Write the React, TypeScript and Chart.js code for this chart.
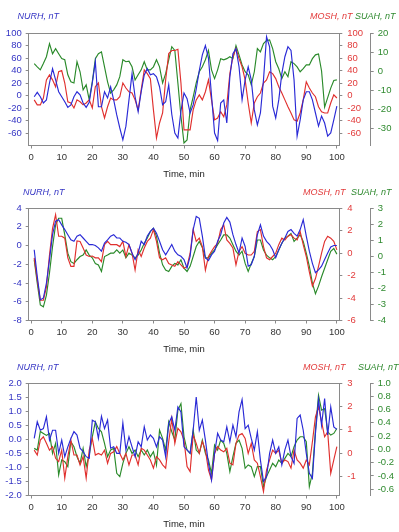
import React, { useEffect, useRef } from 'react';
import { Chart, registerables } from 'chart.js';

Chart.register(...registerables);

const FONT = "'Liberation Sans', Arial, Helvetica, sans-serif";
Chart.defaults.font.family = FONT;
Chart.defaults.font.size = 9.5;

const minutes = [
  1, 2, 3, 4, 5, 6, 7, 8, 9, 10, 11, 12, 13, 14, 15, 16, 17, 18, 19, 20,
  21, 22, 23, 24, 25, 26, 27, 28, 29, 30, 31, 32, 33, 34, 35, 36, 37, 38, 39, 40,
  41, 42, 43, 44, 45, 46, 47, 48, 49, 50, 51, 52, 53, 54, 55, 56, 57, 58, 59, 60,
  61, 62, 63, 64, 65, 66, 67, 68, 69, 70, 71, 72, 73, 74, 75, 76, 77, 78, 79, 80,
  81, 82, 83, 84, 85, 86, 87, 88, 89, 90, 91, 92, 93, 94, 95, 96, 97, 98, 99, 100,
];
const timeTicks = [0, 10, 20, 30, 40, 50, 60, 70, 80, 90, 100];

// ---------- Panel 1 ----------
const nurh1 = [
  -2, 5, -2, -12, -7, 20, 43, 25, 6, -2,
  -10, -19, -15, -2, 6, 1, -12, -19, -11, 20,
  54, -18, -18, 6, -4, 14, -7, -31, -52, -71,
  -49, -7, 35, -2, -26, 6, 33, 43, 33, 35,
  30, 14, -15, -10, 17, -30, -60, -68, -25, 4,
  -5, -28, -15, 10, 40, 65, 80, 60, 0, -60,
  -72, -12, -7, -44, 30, 67, 75, 46, -7, 25,
  46, 25, -23, -47, -28, 25, 94, 78, -17, -36,
  -7, 35, 62, 78, 72, 25, -65, -39, -7, 6,
  6, -7, -28, -49, -33, -44, -65, -60, -39, -17,
];
const mosh1 = [
  -7, -15, -15, -4, 25, 33, 25, 14, 38, 40,
  20, -10, -12, -20, -7, -10, -15, -12, -7, -20,
  14, 20, -18, -36, -18, -4, -7, -7, -2, 20,
  12, 6, 4, -7, -23, 9, 41, 35, 27, -23,
  -68, -44, -28, 25, 67, 72, 72, 74, 20, -55,
  -55, -55, -23, -7, 1, -7, 6, 25, -7, -39,
  -36, -26, -34, -15, 35, 62, 75, 59, 46, 25,
  -12, -44, -12, -2, 4, 20, 25, 38, 35, 27,
  14, 4, -7, -18, -28, -39, -41, -28, -7, 22,
  12, 4, -2, -18, -26, -28, -28, -12, 1, -4,
];
const suah1 = [
  3.9, 2.2, 0.6, 3.9, 7.5, 14.4, 9.1, 11.8, 9.1, 6.5,
  5.9, -2.0, -5.7, -6.3, 4.9, -0.4, -9.9, -7.3, -15.2, -5.7,
  6.5, 9.1, 10.1, 2.2, -5.7, -11.6, -9.9, -7.3, -3.0, 5.9,
  4.9, 5.2, 2.2, -4.7, -2.0, 0.6, 4.9, 0.6, 0.6, 2.2,
  5.9, 2.2, -6.3, -1.4, 5.9, 12.8, 10.8, -6.3, -23.8, -37.9,
  -36.3, -20.5, -13.6, -6.3, -0.4, 2.2, 5.9, 10.8, 0.6, -4.0,
  0.6, 6.5, 5.9, 6.5, 7.5, 6.5, 13.4, 8.5, 3.2, -0.4,
  -2.0, -7.3, -0.4, 11.8, 10.1, 14.4, 16.0, 16.4, 11.8, 4.9,
  1.2, -4.0, -0.4, -3.0, 4.9, 3.9, 2.2, -0.4, 1.2, 3.2,
  3.2, 6.5, 8.5, 9.0, 0.0, -19.0, -14.0, -9.0, -5.0, -4.7,
];
const p1LeftTicks = [-60, -40, -20, 0, 20, 40, 60, 80, 100];
const p1RedTicks = [-60, -40, -20, 0, 20, 40, 60, 80, 100];
const p1GreenTicks = [-30, -20, -10, 0, 10, 20];

// ---------- Panel 2 ----------
const nurh2 = [
  -0.45, -3.3, -5.8, -5.6, -4.0, -1.5, 1.15, 2.6, 2.75, 2.2,
  1.7, 1.15, 0.6, 0.45, 1.0, 1.15, 0.8, 0.45, 0.1, 0.1,
  0, -0.25, -0.6, 0.25, 0.6, 1.0, 1.15, 0.8, 0.8, 0.45,
  0.35, 0.1, -0.8, -1.5, -0.8, 0.45, 0.1, 1.0, 1.5, 1.85,
  1.3, 0.45, -0.45, -1.0, -0.45, 0.1, -0.6, -1.0, -1.15, -1.5,
  -2.4, -1.15, 1.7, 3.1, 2.9, 1.0, -1.3, -1.6, -1.0, -0.6,
  0.45, 1.15, 2.4, 3.0, 2.5, 1.15, 0.1, -0.8, 0.8, -0.1,
  -2.2, -2.05, -1.15, 1.15, 2.2, 1.0, 0.45, 0.1, -0.45, -1.3,
  -0.45, 0.25, 0.8, 1.5, 1.7, 1.3, 1.0, 1.7, 2.75, 1.0,
  -0.6, -1.9, -2.9, -2.6, -2.2, -1.5, -0.8, -0.15, 0, 0,
];
const mosh2 = [
  -0.43, -2.40, -4.20, -4.20, -3.03, -0.18, 2.20, 3.41, 1.49, 1.49,
  1.32, -0.43, -1.19, -1.19, 1.07, 1.03, 0.44, -0.18, -0.31, -0.27,
  -0.43, -0.43, -0.77, 0.74, 1.03, 0.74, 0.74, 0.74, 0.57, 1.03,
  -0.31, 0.74, -0.02, -1.52, 0.28, -0.31, 0.44, 1.03, 1.32, 2.08,
  1.03, -0.43, -0.60, -0.43, -0.94, -1.06, -1.19, -0.77, -1.06, -1.35,
  -1.19, -0.02, 2.08, 1.03, 1.32, 0.57, -1.52, -0.31, 0.15, 0.57,
  0.86, 2.08, 2.49, 1.16, 0.86, 0.44, -1.06, 0.15, 0.57, -0.02,
  -0.18, -0.18, 0.15, 1.91, 2.08, 0.57, -0.43, -0.60, -0.31, -0.02,
  0.74, 1.32, 1.16, 1.49, 1.62, 1.32, 1.16, 1.91, 0.74, -0.31,
  -1.69, -2.94, -2.27, -1.19, -0.02, 1.03, 1.49, 1.32, 1.03, 0.28,
];
const suah2 = [
  -0.22, -1.68, -3.03, -3.15, -2.42, -1.04, 0.60, 1.95, 2.36, 2.36,
  1.33, 0.19, -0.34, -0.45, -0.22, -0.02, 0.07, 0.39, 0.07, -0.10,
  -0.45, -0.54, -0.95, -0.02, 0.07, 0.19, 0.19, 0.39, 0.19, 0.39,
  -0.10, 0.19, 0.07, -0.10, 0.07, 0.39, 0.80, 1.13, 1.54, 1.74,
  1.24, 0.19, -0.54, -0.86, -0.95, -0.63, -0.45, -0.54, -0.22, -0.75,
  -0.95, -0.63, -0.02, 0.60, 0.92, 0.54, -0.10, -0.10, 0.19, 0.39,
  0.72, 1.01, 1.33, 1.33, 1.13, 0.72, 0.31, 0.07, 0.31, -0.45,
  -0.95, -0.45, -0.02, 1.01, 1.01, 0.39, 0.07, -0.10, -0.22, -0.02,
  0.39, 0.80, 1.13, 1.24, 1.42, 0.92, 1.13, 1.33, 0.92, 0.19,
  -0.63, -1.68, -2.33, -1.86, -1.28, -0.75, -0.22, 0.31, 0.48, 0.13,
];
const p2LeftTicks = [-8, -6, -4, -2, 0, 2, 4];
const p2RedTicks = [-6, -4, -2, 0, 2, 4];
const p2GreenTicks = [-4, -3, -2, -1, 0, 1, 2, 3];

// ---------- Panel 3 ----------
const nurh3 = [
  0.03, 0.62, 0.32, 0.38, 0.80, -0.03, 0.32, 0.32, -0.5, -0.03,
  -0.62, -0.27, 0.03, 0.27, 0.15, -0.32, -0.44, -0.62, -0.68, 0.68,
  0.62, 0.03, 0.82, 0.38, 0.68, -0.32, -0.27, -0.5, -0.5, 0.58,
  -0.38, 0.09, -0.27, -0.62, -0.09, -0.27, 0.44, -0.03, 0.15, 0.03,
  -0.27, 0.09, -0.03, -0.62, 0.56, 0.80, 0.32, 1.15, 0.97, -0.27,
  -0.38, -0.5, 0.32, 1.5, 0.32, 0.68, -0.03, -0.86, -1.45, -0.5,
  0.21, -0.03, -0.09, 0.44, -0.09, 0.50, 0.09, 0.97, 1.41, 0.38,
  0.50, 0.03, -0.38, 0.27, -0.74, -1.5, -1.33, -0.5, -0.03, -0.5,
  -0.27, -0.91, -0.38, -0.03, -0.62, -0.86, 0.74, 0.86, 0.32, -0.5,
  -1.21, -1.39, 0.21, 1.41, 0.50, 1.45, 0.15, 1.15, 0.44, 0.35,
];
const mosh3 = [
  0.13, -0.08, 0.56, 0.70, 0.42, 0.13, 0.28, -0.22, -0.36, 0.13,
  -1.07, -0.15, 0.56, -0.08, -0.08, -0.5, -0.15, -1.07, 0.13, 0.63,
  -0.08, -0.01, -0.08, 0.13, -0.43, -0.01, 0.06, 0.28, -0.01, -0.29,
  -0.01, -0.5, -0.08, -0.08, -0.5, 0.21, 0.13, -0.08, -0.29, -0.64,
  -0.15, -0.29, -0.5, -0.64, 0.49, 1.48, 0.42, 1.06, 0.91, 0.56,
  -0.57, -0.79, 0.77, 0.42, -0.01, 0.5, 0.13, -0.72, -1.14, -0.01,
  0.28, 0.13, 0.06, 0.21, -0.43, -0.5, 0.42, 0.77, 0.84, 0.63,
  -0.01, 0.42, -0.29, -0.43, -1.0, -1.64, -0.72, -0.29, 0.13, -0.01,
  0.13, -0.43, -0.29, -0.36, -0.64, 0.13, -0.29, -0.43, -0.64, -0.29,
  -0.5, 0.49, 1.55, 1.98, 1.34, 0.70, 0.91, -0.86, -0.29, 0.28,
];
const suah3 = [
  0.015, -0.01, 0.27, 0.24, 0.21, 0.24, -0.06, 0.09, -0.385, -0.16,
  -0.185, -0.26, 0.115, 0.04, -0.11, -0.21, 0.015, -0.26, -0.085, 0.19,
  0.415, 0.315, 0.265, 0.09, -0.11, -0.01, 0.015, -0.36, -0.41, -0.21,
  -0.06, 0.04, -0.06, -0.01, -0.11, -0.01, -0.085, -0.01, -0.11, -0.035,
  -0.235, 0.29, 0.165, -0.01, 0.415, 0.265, 0.14, 0.59, 0.69, 0.19,
  -0.01, -0.06, 0.29, -0.01, -0.06, 0.14, -0.06, -0.16, -0.36, 0.065,
  -0.01, 0.14, 0.09, -0.06, -0.335, -0.11, 0.09, 0.14, 0.015, -0.285,
  -0.235, -0.26, -0.41, -0.26, -0.26, -0.56, -0.41, -0.31, -0.21, -0.26,
  -0.16, -0.21, -0.135, -0.06, -0.11, 0.04, 0.14, 0.19, 0.19, 0.115,
  -0.56, -0.36, 0.29, 0.815, 0.59, 0.615, 0.265, 0.215, 0.24, 0.315,
];
const p3LeftTicks = [-2, -1.5, -1, -0.5, 0, 0.5, 1, 1.5, 2];
const p3RedTicks = [-1, 0, 1, 2, 3];
const p3GreenTicks = [-0.6, -0.4, -0.2, 0, 0.2, 0.4, 0.6, 0.8, 1.0];

// ---------- styling ----------
const BLUE = '#2a2ad6';
const RED = '#e0302e';
const GREEN = '#2a8a2a';
const BLUE_TXT = '#3434c4';
const RED_TXT = '#e23a3a';
const GREEN_TXT = '#2f8a2f';
const AXIS = '#8a8a8a';

type AxisDef = { min: number; max: number; ticks: number[]; decimals: number };
type PanelDef = {
  nurh: number[];
  mosh: number[];
  suah: number[];
  left: AxisDef;
  red: AxisDef;
  green: AxisDef;
  titles: { nurhX: number; moshX: number; suahX: number; y: number };
};

const panels: PanelDef[] = [
  {
    nurh: nurh1, mosh: mosh1, suah: suah1,
    left: { min: -80, max: 100, ticks: p1LeftTicks, decimals: 0 },
    red: { min: -80, max: 100, ticks: p1RedTicks, decimals: 0 },
    green: { min: -39.2, max: 20, ticks: p1GreenTicks, decimals: 0 },
    titles: { nurhX: 17.5, moshX: 310, suahX: 355, y: 11.5 },
  },
  {
    nurh: nurh2, mosh: mosh2, suah: suah2,
    left: { min: -8, max: 4, ticks: p2LeftTicks, decimals: 0 },
    red: { min: -6, max: 4, ticks: p2RedTicks, decimals: 0 },
    green: { min: -4, max: 3, ticks: p2GreenTicks, decimals: 0 },
    titles: { nurhX: 23, moshX: 303, suahX: 351, y: 12.5 },
  },
  {
    nurh: nurh3, mosh: mosh3, suah: suah3,
    left: { min: -2, max: 2, ticks: p3LeftTicks, decimals: 1 },
    red: { min: -1.81, max: 3, ticks: p3RedTicks, decimals: 0 },
    green: { min: -0.695, max: 1.0, ticks: p3GreenTicks, decimals: 1 },
    titles: { nurhX: 17, moshX: 303, suahX: 358, y: 12.5 },
  },
];

const titlesPlugin = {
  id: 'panelTitles',
  afterDraw(chart: any, _args: any, opts: any) {
    const ctx = chart.ctx;
    const a = chart.chartArea;
    ctx.save();
    ctx.strokeStyle = AXIS;
    ctx.lineWidth = 1;
    ctx.beginPath();
    ctx.moveTo(a.left, Math.round(a.top) + 0.5);
    ctx.lineTo(a.right, Math.round(a.top) + 0.5);
    ctx.stroke();
    ctx.font = `italic 9px ${FONT}`;
    ctx.textBaseline = 'middle';
    ctx.textAlign = 'left';
    for (const t of opts.items || []) {
      ctx.fillStyle = t.color;
      ctx.fillText(t.text, t.x, t.y);
    }
    ctx.restore();
  },
};

const setTicks = (values: number[]) => (scale: any) => {
  scale.ticks = values.map((v) => ({ value: v }));
};

function yAxis(def: AxisDef, position: 'left' | 'right', color: string, width: number, padding: number) {
  return {
    type: 'linear' as const,
    position,
    min: def.min,
    max: def.max,
    afterBuildTicks: setTicks(def.ticks),
    afterFit: (s: any) => {
      s.width = width;
    },
    grid: { drawOnChartArea: false, drawTicks: true, tickLength: 3, color: AXIS, tickColor: AXIS },
    border: { display: true, color: AXIS, width: 1 },
    ticks: {
      color,
      font: { size: 9.5, family: FONT },
      padding,
      autoSkip: false,
      callback: (v: any) => Number(v).toFixed(def.decimals),
    },
  };
}

function Panel({ def, top }: { def: PanelDef; top: number }) {
  const ref = useRef<HTMLCanvasElement>(null);
  useEffect(() => {
    const pts = (vals: number[]) => vals.map((v, i) => ({ x: minutes[i], y: v }));
    const ds = (label: string, vals: number[], axis: string, color: string) => ({
      label,
      data: pts(vals),
      yAxisID: axis,
      borderColor: color,
      backgroundColor: color,
      borderWidth: 1.15,
      pointRadius: 0,
      tension: 0,
      fill: false,
    });
    const chart = new Chart(ref.current as HTMLCanvasElement, {
      type: 'line',
      data: {
        datasets: [
          ds('NURH', def.nurh, 'y', BLUE),
          ds('MOSH', def.mosh, 'yRed', RED),
          ds('SUAH', def.suah, 'yGreen', GREEN),
        ],
      },
      options: {
        responsive: false,
        animation: false,
        events: [],
        layout: { padding: { top: 28, left: 0, right: 0, bottom: 0 } },
        plugins: {
          legend: { display: false },
          tooltip: { enabled: false },
          panelTitles: {
            items: [
              { text: 'NURH, nT', x: def.titles.nurhX, y: def.titles.y, color: BLUE_TXT },
              { text: 'MOSH, nT', x: def.titles.moshX, y: def.titles.y, color: RED_TXT },
              { text: 'SUAH, nT', x: def.titles.suahX, y: def.titles.y, color: GREEN_TXT },
            ],
          },
        } as any,
        scales: {
          x: {
            type: 'linear',
            position: 'bottom',
            min: -0.8,
            max: 100.8,
            afterBuildTicks: setTicks(timeTicks),
            afterFit: (s: any) => {
              s.height = 34.5;
            },
            grid: { drawOnChartArea: false, drawTicks: true, tickLength: 3, color: AXIS, tickColor: AXIS },
            border: { display: true, color: AXIS, width: 1 },
            ticks: { color: '#333', font: { size: 9.5, family: FONT }, padding: 3, maxRotation: 0, autoSkip: false },
            title: { display: true, text: 'Time, min', color: '#222', font: { size: 9.5, family: FONT }, padding: 0 },
          },
          y: yAxis(def.left, 'left', BLUE_TXT, 28.7, 4),
          yRed: yAxis(def.red, 'right', RED_TXT, 31.4, 5),
          yGreen: yAxis(def.green, 'right', GREEN_TXT, 28.3, 4),
        } as any,
      },
      plugins: [titlesPlugin as any],
    });
    return () => chart.destroy();
  }, [def]);
  return (
    <canvas
      ref={ref}
      width={399}
      height={175}
      style={{ position: 'absolute', left: 0, top, width: 399, height: 175, display: 'block' }}
    />
  );
}

export default function App() {
  return (
    <div style={{ position: 'absolute', left: 0, top: 0, width: 399, height: 532, background: '#fff', overflow: 'hidden' }}>
      {panels.map((p, i) => (
        <Panel key={i} def={p} top={5 + 175 * i} />
      ))}
    </div>
  );
}
